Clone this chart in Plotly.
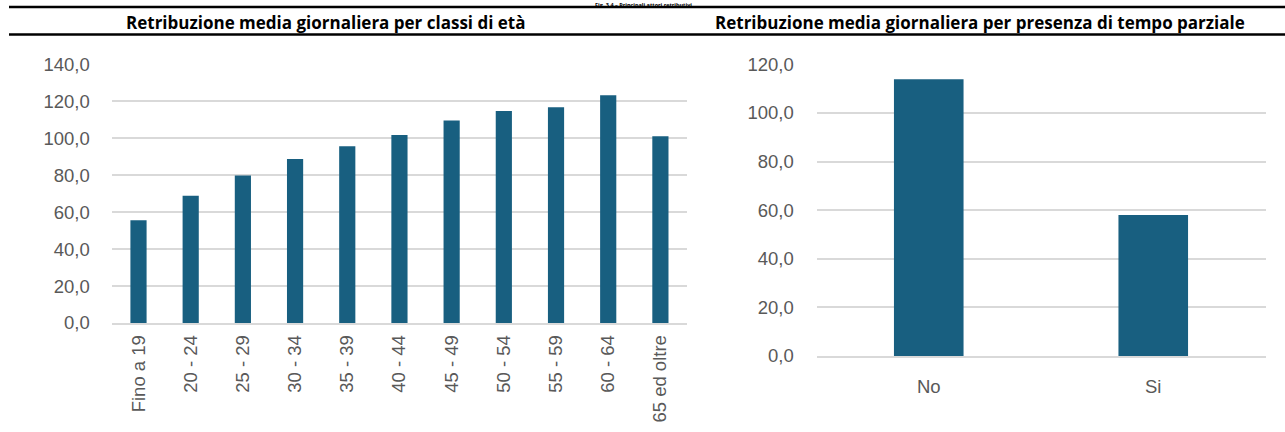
import plotly.graph_objects as go

# Retribuzione media giornaliera per classi di età
age_classes = ["Fino a 19", "20 - 24", "25 - 29", "30 - 34", "35 - 39", "40 - 44",
               "45 - 49", "50 - 54", "55 - 59", "60 - 64", "65 ed oltre"]
age_values = [55.6, 68.8, 79.8, 88.7, 95.7, 101.7, 109.6, 114.7, 116.7, 123.2, 101.1]

# Retribuzione media giornaliera per presenza di tempo parziale
part_time = ["No", "Si"]
part_time_values = [113.8, 58.0]

left_ticks = [0, 20, 40, 60, 80, 100, 120, 140]
right_ticks = [0, 20, 40, 60, 80, 100, 120]

fig_title = "Fig. 3.4 – Principali attori retributivi"
left_title = "Retribuzione media giornaliera per classi di età"
right_title = "Retribuzione media giornaliera per presenza di tempo parziale"

W, H = 1285, 432
BAR = "#185F80"
GRID = "#D9D9D9"
TICK_FONT = dict(family="Liberation Sans, Arial, sans-serif", size=18.5, color="#595959")
HEAD_FONT = dict(family="Open Sans, Lato, sans-serif", size=17, color="#000000")


def px(x):
    return x / W


def py(y):
    return 1 - y / H


def fmt(v):
    return f"{v:.1f}".replace(".", ",")


fig = go.Figure()
fig.add_trace(go.Bar(x=age_classes, y=age_values, marker=dict(color=BAR, line=dict(width=0)),
                     xaxis="x", yaxis="y", width=0.31, hoverinfo="x+y"))
fig.add_trace(go.Bar(x=part_time, y=part_time_values, marker=dict(color=BAR, line=dict(width=0)),
                     xaxis="x2", yaxis="y2", width=0.31, hoverinfo="x+y"))

common_y = dict(showgrid=True, gridcolor=GRID, gridwidth=1.5, zeroline=False,
                showline=False, ticks="outside", ticklen=18, tickcolor="rgba(0,0,0,0)",
                tickfont=TICK_FONT, automargin=False, fixedrange=True)
common_x = dict(showgrid=False, zeroline=False, showline=True, linecolor=GRID, linewidth=1.5,
                tickfont=TICK_FONT, automargin=False, fixedrange=True, type="category")

fig.update_layout(
    width=W, height=H,
    margin=dict(l=0, r=0, t=0, b=0),
    paper_bgcolor="white", plot_bgcolor="white",
    showlegend=False,
    xaxis=dict(domain=[px(112.4), px(686.5)], anchor="y", tickangle=-90,
               ticks="outside", ticklen=3, tickcolor="rgba(0,0,0,0)",
               range=[-0.5, len(age_classes) - 0.5], **common_x),
    yaxis=dict(domain=[py(323), py(64.3)], anchor="x", range=[0, 140],
               tickvals=left_ticks, ticktext=[fmt(v) for v in left_ticks], **common_y),
    xaxis2=dict(domain=[px(816.5), px(1265.5)], anchor="y2",
                ticks="outside", ticklen=13, tickcolor="rgba(0,0,0,0)",
                range=[-0.5, len(part_time) - 0.5], **common_x),
    yaxis2=dict(domain=[py(356), py(64.3)], anchor="x2", range=[0, 120],
                tickvals=right_ticks, ticktext=[fmt(v) for v in right_ticks], **common_y),
)

# Header rules
for y in (7, 34.5):
    fig.add_shape(type="line", xref="paper", yref="paper",
                  x0=px(9), x1=1, y0=py(y), y1=py(y),
                  line=dict(color="#000000", width=2.5))

# Figure title, small, above the top rule
fig.add_annotation(text=f"<b>{fig_title}</b>", xref="paper", yref="paper",
                   x=px(643), y=1, xanchor="center", yanchor="top", borderpad=0,
                   showarrow=False, font=dict(family="Open Sans, Lato, sans-serif",
                                              size=5.5, color="#000000"))

# Panel headings
fig.add_annotation(text=f"<b>{left_title}</b>", xref="paper", yref="paper",
                   x=px(325), y=py(22), xanchor="center", yanchor="middle",
                   showarrow=False, font=HEAD_FONT)
fig.add_annotation(text=f"<b>{right_title}</b>", xref="paper", yref="paper",
                   x=px(980), y=py(22), xanchor="center", yanchor="middle",
                   showarrow=False, font=HEAD_FONT)

fig.write_html("out.html", config=dict(displayModeBar=False))
